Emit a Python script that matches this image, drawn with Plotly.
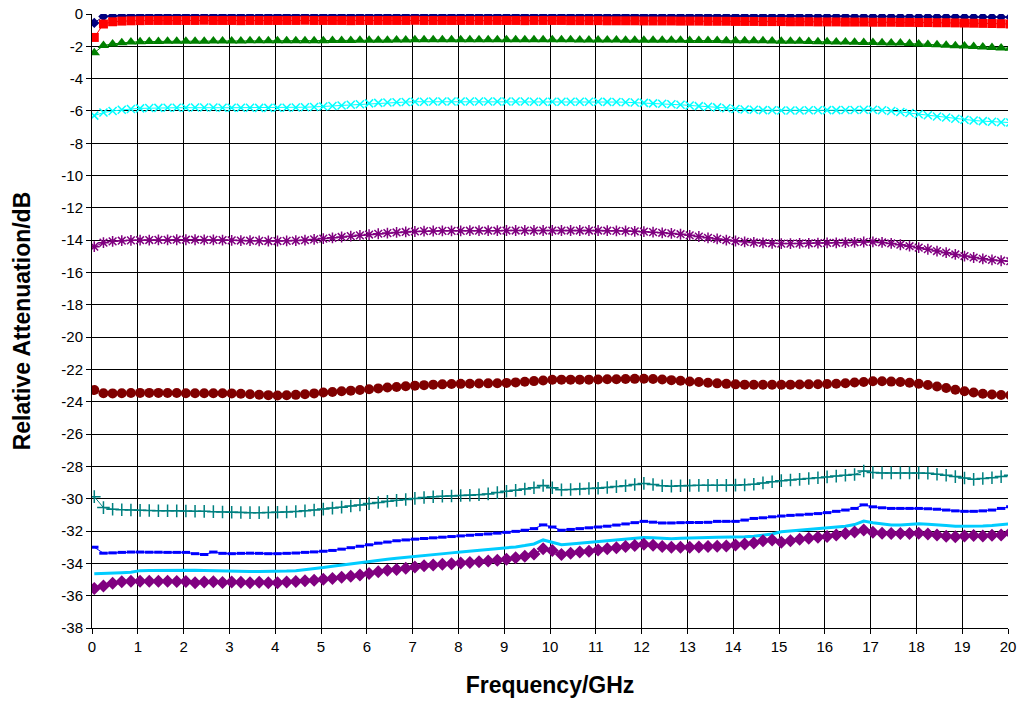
import plotly.graph_objects as go

# Frequency sweep points (GHz): 0.05 GHz start, 0.2 GHz step
freq = [round(0.05 + 0.2 * i, 2) for i in range(101)]

s1_navy = [
    -0.55, -0.15, -0.12, -0.11, -0.10, -0.10, -0.10, -0.10, -0.10, -0.10,
    -0.10, -0.10, -0.11, -0.10, -0.10, -0.10, -0.10, -0.11, -0.10, -0.10,
    -0.10, -0.10, -0.10, -0.10, -0.11, -0.10, -0.10, -0.10, -0.10, -0.10,
    -0.10, -0.10, -0.10, -0.11, -0.10, -0.10, -0.10, -0.10, -0.10, -0.10,
    -0.10, -0.10, -0.10, -0.10, -0.10, -0.11, -0.10, -0.10, -0.10, -0.10,
    -0.10, -0.10, -0.10, -0.10, -0.10, -0.10, -0.11, -0.10, -0.10, -0.10,
    -0.10, -0.10, -0.11, -0.11, -0.11, -0.11, -0.11, -0.11, -0.12, -0.12,
    -0.12, -0.12, -0.12, -0.12, -0.13, -0.13, -0.13, -0.13, -0.13, -0.14,
    -0.14, -0.14, -0.14, -0.15, -0.15, -0.15, -0.15, -0.15, -0.16, -0.16,
    -0.16, -0.16, -0.17, -0.17, -0.17, -0.18, -0.18, -0.18, -0.19, -0.19,
    -0.20]

s2_red = [
    -1.45, -0.62, -0.48, -0.44, -0.42, -0.41, -0.40, -0.40, -0.40, -0.40,
    -0.40, -0.40, -0.39, -0.40, -0.40, -0.40, -0.41, -0.40, -0.40, -0.40,
    -0.40, -0.40, -0.40, -0.39, -0.40, -0.40, -0.40, -0.40, -0.41, -0.40,
    -0.40, -0.40, -0.40, -0.40, -0.40, -0.39, -0.40, -0.40, -0.40, -0.40,
    -0.40, -0.40, -0.40, -0.40, -0.40, -0.40, -0.40, -0.41, -0.40, -0.40,
    -0.40, -0.40, -0.41, -0.41, -0.41, -0.41, -0.42, -0.42, -0.42, -0.42,
    -0.43, -0.43, -0.43, -0.43, -0.44, -0.44, -0.44, -0.45, -0.45, -0.45,
    -0.46, -0.46, -0.46, -0.47, -0.47, -0.47, -0.48, -0.48, -0.48, -0.49,
    -0.49, -0.49, -0.50, -0.50, -0.50, -0.51, -0.51, -0.51, -0.52, -0.52,
    -0.53, -0.53, -0.54, -0.54, -0.55, -0.56, -0.57, -0.58, -0.59, -0.60,
    -0.62]

s3_green = [
    -2.40, -1.95, -1.85, -1.78, -1.74, -1.72, -1.70, -1.70, -1.69, -1.69,
    -1.68, -1.68, -1.68, -1.67, -1.67, -1.67, -1.67, -1.66, -1.66, -1.66,
    -1.66, -1.66, -1.65, -1.65, -1.65, -1.65, -1.64, -1.64, -1.64, -1.63,
    -1.63, -1.62, -1.62, -1.61, -1.61, -1.60, -1.60, -1.60, -1.59, -1.59,
    -1.59, -1.59, -1.59, -1.59, -1.59, -1.59, -1.60, -1.60, -1.60, -1.60,
    -1.60, -1.60, -1.60, -1.61, -1.61, -1.61, -1.61, -1.61, -1.62, -1.62,
    -1.62, -1.62, -1.63, -1.63, -1.63, -1.64, -1.64, -1.64, -1.64, -1.65,
    -1.65, -1.65, -1.66, -1.66, -1.67, -1.68, -1.68, -1.69, -1.70, -1.71,
    -1.72, -1.73, -1.74, -1.75, -1.76, -1.77, -1.78, -1.79, -1.80, -1.82,
    -1.85, -1.88, -1.90, -1.93, -1.96, -1.98, -2.01, -2.04, -2.07, -2.10,
    -2.12]

s4_cyan = [
    -6.29, -6.10, -6.00, -5.93, -5.88, -5.84, -5.82, -5.81, -5.80, -5.80,
    -5.80, -5.79, -5.79, -5.79, -5.80, -5.80, -5.80, -5.80, -5.81, -5.81,
    -5.80, -5.80, -5.79, -5.77, -5.75, -5.72, -5.69, -5.66, -5.62, -5.58,
    -5.53, -5.50, -5.48, -5.46, -5.45, -5.43, -5.43, -5.42, -5.42, -5.42,
    -5.42, -5.42, -5.41, -5.41, -5.42, -5.42, -5.42, -5.42, -5.43, -5.43,
    -5.43, -5.43, -5.43, -5.43, -5.43, -5.43, -5.44, -5.45, -5.46, -5.48,
    -5.50, -5.53, -5.56, -5.59, -5.62, -5.66, -5.70, -5.74, -5.78, -5.83,
    -5.88, -5.91, -5.93, -5.95, -5.96, -5.97, -5.97, -5.97, -5.96, -5.96,
    -5.95, -5.95, -5.94, -5.94, -5.93, -5.93, -5.96, -6.00, -6.06, -6.13,
    -6.20, -6.27, -6.34, -6.41, -6.48, -6.54, -6.59, -6.63, -6.67, -6.70,
    -6.72]

s5_purple = [
    -14.40, -14.15, -14.07, -14.03, -14.01, -14.00, -13.99, -13.98, -13.98, -13.97,
    -13.97, -13.97, -13.98, -13.98, -13.99, -14.01, -14.02, -14.03, -14.04, -14.05,
    -14.05, -14.04, -14.02, -14.00, -13.95, -13.90, -13.85, -13.80, -13.75, -13.70,
    -13.65, -13.60, -13.56, -13.52, -13.49, -13.46, -13.44, -13.43, -13.42, -13.42,
    -13.42, -13.41, -13.41, -13.41, -13.41, -13.40, -13.40, -13.40, -13.40, -13.40,
    -13.40, -13.40, -13.40, -13.40, -13.40, -13.40, -13.41, -13.42, -13.43, -13.45,
    -13.47, -13.50, -13.54, -13.58, -13.63, -13.70, -13.77, -13.85, -13.92, -13.99,
    -14.05, -14.10, -14.14, -14.17, -14.19, -14.21, -14.21, -14.20, -14.19, -14.18,
    -14.17, -14.16, -14.15, -14.13, -14.11, -14.10, -14.14, -14.20, -14.28, -14.37,
    -14.46, -14.56, -14.67, -14.77, -14.88, -14.98, -15.07, -15.15, -15.22, -15.27,
    -15.30]

s6_darkred = [
    -23.27, -23.47, -23.48, -23.47, -23.46, -23.45, -23.45, -23.45, -23.46, -23.46,
    -23.47, -23.47, -23.47, -23.47, -23.47, -23.48, -23.50, -23.53, -23.56, -23.59,
    -23.61, -23.60, -23.57, -23.53, -23.48, -23.43, -23.39, -23.35, -23.31, -23.27,
    -23.22, -23.17, -23.12, -23.08, -23.04, -23.00, -22.97, -22.94, -22.92, -22.90,
    -22.89, -22.88, -22.87, -22.86, -22.85, -22.83, -22.80, -22.76, -22.72, -22.68,
    -22.64, -22.63, -22.63, -22.63, -22.63, -22.62, -22.61, -22.60, -22.59, -22.58,
    -22.57, -22.59, -22.62, -22.66, -22.70, -22.74, -22.78, -22.82, -22.86, -22.89,
    -22.92, -22.94, -22.95, -22.95, -22.95, -22.95, -22.94, -22.93, -22.92, -22.91,
    -22.90, -22.88, -22.85, -22.81, -22.77, -22.73, -22.73, -22.75, -22.78, -22.82,
    -22.88, -22.96, -23.05, -23.15, -23.25, -23.35, -23.43, -23.50, -23.55, -23.58,
    -23.60]

s7_teal = [
    -29.87, -30.55, -30.65, -30.68, -30.70, -30.72, -30.73, -30.74, -30.74, -30.75,
    -30.76, -30.77, -30.78, -30.80, -30.82, -30.84, -30.85, -30.86, -30.86, -30.85,
    -30.84, -30.82, -30.79, -30.75, -30.70, -30.64, -30.58, -30.52, -30.45, -30.38,
    -30.30, -30.23, -30.16, -30.10, -30.05, -29.98, -29.92, -29.88, -29.85, -29.83,
    -29.80, -29.78, -29.75, -29.70, -29.62, -29.54, -29.48, -29.40, -29.32, -29.18,
    -29.32, -29.45, -29.43, -29.40, -29.37, -29.35, -29.30, -29.25, -29.20, -29.12,
    -29.05, -29.12, -29.20, -29.22, -29.20, -29.18, -29.17, -29.17, -29.17, -29.17,
    -29.16, -29.14, -29.10, -29.02, -28.95, -28.88, -28.84, -28.80, -28.75, -28.70,
    -28.65, -28.60, -28.55, -28.50, -28.28, -28.38, -28.40, -28.40, -28.40, -28.40,
    -28.40, -28.42, -28.48, -28.55, -28.63, -28.72, -28.80, -28.75, -28.70, -28.63,
    -28.55]

s8_blue = [
    -33.00, -33.37, -33.35, -33.32, -33.30, -33.30, -33.31, -33.31, -33.32, -33.32,
    -33.32, -33.40, -33.45, -33.30, -33.38, -33.40, -33.38, -33.37, -33.38, -33.40,
    -33.40, -33.38, -33.36, -33.32, -33.29, -33.25, -33.20, -33.12, -33.03, -32.94,
    -32.85, -32.75, -32.68, -32.60, -32.55, -32.50, -32.46, -32.42, -32.38, -32.34,
    -32.30, -32.26, -32.22, -32.18, -32.13, -32.08, -32.02, -31.95, -31.85, -31.62,
    -31.75, -31.95, -31.90, -31.85, -31.80, -31.75, -31.70, -31.63, -31.56, -31.48,
    -31.40, -31.45, -31.50, -31.50, -31.48, -31.47, -31.47, -31.46, -31.40, -31.40,
    -31.40, -31.32, -31.22, -31.18, -31.12, -31.07, -31.03, -31.00, -30.96, -30.92,
    -30.86, -30.78, -30.70, -30.60, -30.38, -30.50, -30.56, -30.60, -30.60, -30.60,
    -30.60, -30.62, -30.65, -30.70, -30.75, -30.78, -30.78, -30.75, -30.70, -30.60,
    -30.50]

s9_skyblue = [
    -34.65, -34.64, -34.62, -34.58, -34.55, -34.45, -34.44, -34.43, -34.42, -34.41,
    -34.41, -34.42, -34.44, -34.46, -34.48, -34.50, -34.50, -34.50, -34.50, -34.50,
    -34.50, -34.48, -34.45, -34.40, -34.34, -34.26, -34.18, -34.10, -34.02, -33.95,
    -33.88, -33.80, -33.74, -33.68, -33.62, -33.55, -33.50, -33.45, -33.40, -33.35,
    -33.30, -33.25, -33.20, -33.15, -33.10, -33.05, -32.98, -32.90, -32.80, -32.55,
    -32.70, -32.85, -32.80, -32.75, -32.70, -32.65, -32.60, -32.55, -32.50, -32.45,
    -32.40, -32.42, -32.45, -32.48, -32.45, -32.42, -32.40, -32.40, -32.38, -32.38,
    -32.38, -32.36, -32.32, -32.26, -32.18, -32.05, -32.00, -31.96, -31.92, -31.88,
    -31.83, -31.77, -31.70, -31.60, -31.38, -31.48, -31.55, -31.62, -31.62, -31.58,
    -31.55, -31.58, -31.60, -31.65, -31.70, -31.70, -31.70, -31.68, -31.65, -31.60,
    -31.55]

s10_plum = [
    -35.56, -35.40, -35.23, -35.13, -35.10, -35.10, -35.10, -35.10, -35.10, -35.12,
    -35.12, -35.20, -35.15, -35.13, -35.18, -35.15, -35.17, -35.20, -35.17, -35.20,
    -35.20, -35.15, -35.12, -35.08, -35.04, -34.98, -34.93, -34.86, -34.80, -34.72,
    -34.62, -34.52, -34.42, -34.38, -34.30, -34.22, -34.15, -34.10, -34.06, -34.02,
    -33.98, -33.94, -33.90, -33.86, -33.80, -33.74, -33.66, -33.56, -33.42, -33.10,
    -33.20, -33.45, -33.38, -33.30, -33.25, -33.18, -33.10, -33.04, -32.96, -32.90,
    -32.82, -32.88, -32.95, -33.00, -33.00, -33.00, -32.98, -32.96, -32.94, -32.92,
    -32.86, -32.80, -32.74, -32.60, -32.55, -32.70, -32.60, -32.50, -32.44, -32.38,
    -32.33, -32.24, -32.15, -32.06, -31.93, -32.08, -32.14, -32.15, -32.15, -32.15,
    -32.14, -32.18, -32.25, -32.32, -32.36, -32.30, -32.28, -32.30, -32.26, -32.24,
    -32.10]

x_ticks = list(range(0, 21))
y_ticks = list(range(-38, 1, 2))

series = [
    (s1_navy, "#000080", "diamond", 8, 1.0, False),
    (s2_red, "#FF0000", "square", 9, 1.0, False),
    (s3_green, "#008000", "triangle-up", 10, 1.0, False),
    (s4_cyan, "#00FFFF", "x-thin-open", 8, 1.0, True),
    (s5_purple, "#800080", "asterisk-open", 9, 1.0, True),
    (s6_darkred, "#800000", "circle", 10, 1.0, False),
    (s7_teal, "#008080", "cross-thin-open", 9, 1.0, True),
    (s8_blue, "#0000FF", "line-ew-open", 6, 1.0, True),
    (s9_skyblue, "#00CCFF", None, 0, 3.0, False),
    (s10_plum, "#800080", "diamond", 10, 1.0, False),
]

fig = go.Figure()
for vals, col, sym, size, lw, openm in series:
    if sym is None:
        fig.add_trace(go.Scatter(x=freq, y=vals, mode="lines",
                                 line=dict(color=col, width=lw),
                                 showlegend=False, hoverinfo="skip"))
    else:
        mk = dict(symbol=sym, size=size, color=col)
        if openm:
            mk["line"] = dict(color=col, width=1.5 if sym != "line-ew-open" else 3)
        else:
            mk["line"] = dict(width=0)
        fig.add_trace(go.Scatter(x=freq, y=vals, mode="lines+markers",
                                 line=dict(color=col, width=lw), marker=mk,
                                 showlegend=False, hoverinfo="skip"))

font_family = "Arial, Liberation Sans, sans-serif"
fig.update_layout(
    width=1021, height=704,
    margin=dict(l=92, r=13, t=14, b=76),
    paper_bgcolor="white", plot_bgcolor="white",
    font=dict(family=font_family, size=15, color="black"),
    xaxis=dict(range=[0, 20], tickvals=x_ticks, ticktext=[str(v) for v in x_ticks],
               showgrid=True, gridcolor="#000000", gridwidth=1,
               showline=True, linecolor="black", linewidth=1,
               ticks="outside", ticklen=5, tickcolor="black",
               zeroline=False, automargin=False,
               title=dict(text="<b>Frequency/GHz</b>", font=dict(size=23), standoff=22)),
    yaxis=dict(range=[-38, 0], tickvals=y_ticks, ticktext=[str(v) for v in y_ticks],
               showgrid=True, gridcolor="#000000", gridwidth=1,
               showline=True, linecolor="black", linewidth=1,
               ticks="outside", ticklen=5, tickcolor="black",
               zeroline=False, automargin=False,
               title=dict(text="<b>Relative Attenuation/dB</b>", font=dict(size=23), standoff=24)),
)

fig.write_html("out.html", config={"displayModeBar": False},
               post_script="document.body.style.margin='0';")
